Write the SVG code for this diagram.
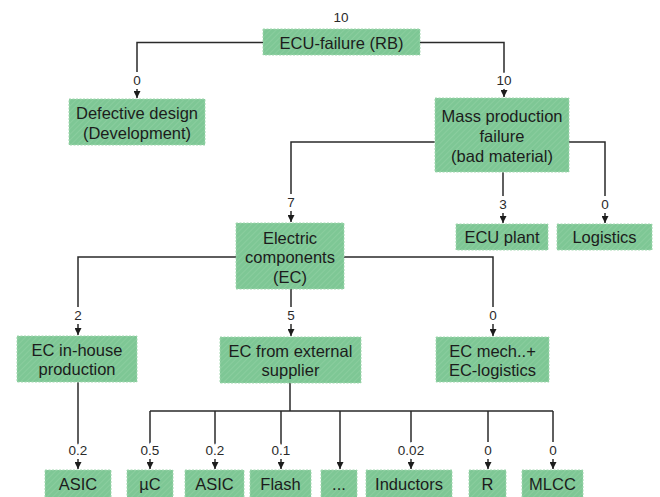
<svg xmlns="http://www.w3.org/2000/svg" width="660" height="497" viewBox="0 0 660 497">
<defs>
<pattern id="hatch" width="4" height="4" patternUnits="userSpaceOnUse" patternTransform="rotate(45)">
<rect width="4" height="4" fill="#7ec795"/>
<line x1="0" y1="0" x2="0" y2="4" stroke="#92d1a5" stroke-width="1.2"/>
</pattern>
<marker id="arr" markerUnits="userSpaceOnUse" markerWidth="8" markerHeight="7" refX="7" refY="3.5" orient="auto" viewBox="0 0 8 7">
<path d="M0,0 L7,3.5 L0,7 Z" fill="#1c1c1c"/>
</marker>
<style>
.box{fill:url(#hatch);stroke:#a3d8b1;stroke-width:1;stroke-dasharray:2 1.5}
.t{font-family:"Liberation Sans",Arial,sans-serif;font-size:16.5px;fill:#1c1c1c;text-anchor:middle}
.l{font-family:"Liberation Sans",Arial,sans-serif;font-size:13.5px;fill:#2a2a2a;text-anchor:middle;stroke:#ffffff;stroke-width:8;stroke-linejoin:round;paint-order:stroke}
.c{fill:none;stroke:#2a2a2a;stroke-width:1.5}
.a{marker-end:url(#arr)}
</style>
</defs>
<rect width="660" height="497" fill="#ffffff"/>
<g id="connectors">
<path class="c a" d="M263,42.5 H137 V98"/>
<path class="c a" d="M420,42.5 H504 V97"/>
<path class="c a" d="M435,142 H291 V222"/>
<path class="c a" d="M503,172 V223"/>
<path class="c a" d="M569,142 H605 V223"/>
<path class="c a" d="M236,257 H78 V335"/>
<path class="c a" d="M291,289 V336"/>
<path class="c a" d="M344,257 H493 V336"/>
<path class="c a" d="M78,382 V469"/>
<path class="c" d="M290,383 V411 M150,411 H553"/>
<path class="c a" d="M150,411 V469"/>
<path class="c a" d="M215,411 V469"/>
<path class="c a" d="M281,411 V469"/>
<path class="c a" d="M340,411 V469"/>
<path class="c a" d="M411,411 V469"/>
<path class="c a" d="M488,411 V469"/>
<path class="c a" d="M553,411 V469"/>
<text class="l" x="341" y="22">10</text>
<text class="l" x="137" y="85">0</text>
<text class="l" x="504" y="85">10</text>
<text class="l" x="291" y="207">7</text>
<text class="l" x="503" y="209">3</text>
<text class="l" x="605" y="209">0</text>
<text class="l" x="78" y="320">2</text>
<text class="l" x="291" y="320">5</text>
<text class="l" x="493" y="320">0</text>
<text class="l" x="78" y="455">0.2</text>
<text class="l" x="150" y="455">0.5</text>
<text class="l" x="215" y="455">0.2</text>
<text class="l" x="281" y="455">0.1</text>
<text class="l" x="411" y="455">0.02</text>
<text class="l" x="488" y="455">0</text>
<text class="l" x="553" y="455">0</text>
</g>
<g id="root"><rect class="box" x="263" y="29" width="157" height="26"/><text class="t" x="341.5" y="49">ECU-failure (RB)</text></g>
<g id="defective"><rect class="box" x="69" y="99" width="136" height="46"/><text class="t" x="137" y="119">Defective design</text><text class="t" x="137" y="139">(Development)</text></g>
<g id="mass"><rect class="box" x="435" y="98" width="134" height="74"/><text class="t" x="502" y="122">Mass production</text><text class="t" x="502" y="142">failure</text><text class="t" x="502" y="162">(bad material)</text></g>
<g id="ecuplant"><rect class="box" x="456" y="224" width="92" height="26"/><text class="t" x="502" y="243">ECU plant</text></g>
<g id="logistics"><rect class="box" x="557" y="224" width="95" height="26"/><text class="t" x="604.5" y="243">Logistics</text></g>
<g id="ec"><rect class="box" x="236" y="223" width="108" height="66"/><text class="t" x="290" y="244">Electric</text><text class="t" x="290" y="263">components</text><text class="t" x="290" y="283">(EC)</text></g>
<g id="inhouse"><rect class="box" x="17" y="336" width="120" height="46"/><text class="t" x="77" y="356">EC in-house</text><text class="t" x="77" y="375">production</text></g>
<g id="external"><rect class="box" x="220" y="337" width="141" height="46"/><text class="t" x="290.5" y="357">EC from external</text><text class="t" x="290.5" y="376">supplier</text></g>
<g id="mech"><rect class="box" x="436" y="337" width="113" height="45"/><text class="t" x="492.5" y="357">EC mech..+</text><text class="t" x="492.5" y="376">EC-logistics</text></g>
<g id="asic1"><rect class="box" x="45" y="470" width="66" height="28"/><text class="t" x="78" y="490">ASIC</text></g>
<g id="uc"><rect class="box" x="127" y="470" width="46" height="28"/><text class="t" x="150" y="490">µC</text></g>
<g id="asic2"><rect class="box" x="185" y="470" width="59" height="28"/><text class="t" x="214.5" y="490">ASIC</text></g>
<g id="flash"><rect class="box" x="250" y="470" width="61" height="28"/><text class="t" x="280.5" y="490">Flash</text></g>
<g id="dots"><rect class="box" x="321" y="470" width="36" height="28"/><text class="t" x="339" y="490">...</text></g>
<g id="inductors"><rect class="box" x="366" y="470" width="86" height="28"/><text class="t" x="409" y="490">Inductors</text></g>
<g id="r"><rect class="box" x="469" y="470" width="37" height="28"/><text class="t" x="487.5" y="490">R</text></g>
<g id="mlcc"><rect class="box" x="522" y="470" width="61" height="28"/><text class="t" x="552.5" y="490">MLCC</text></g>
</svg>
